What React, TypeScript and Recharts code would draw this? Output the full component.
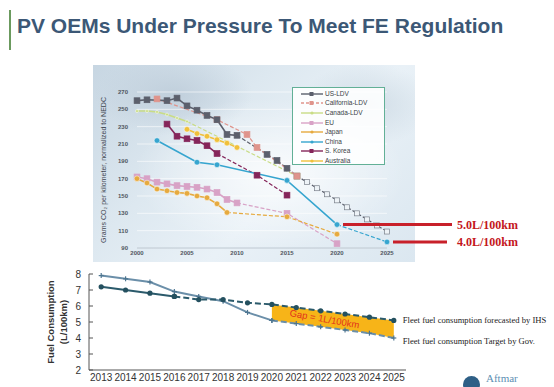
import React from 'react';
import {
  Area,
  CartesianGrid,
  ComposedChart,
  Line,
  LineChart,
  ReferenceDot,
  XAxis,
  YAxis,
} from 'recharts';

type Pt = [number, number];

// top panel: grams CO2 per km (NEDC), [year, value]
const usLdvActual: Pt[] = [
  [2000, 260], [2001, 261], [2003, 260], [2004, 263], [2005, 254],
  [2006, 249], [2007, 243], [2008, 238], [2009, 221], [2010, 220],
];
const usLdvTarget: Pt[] = [
  [2010, 220], [2013, 198], [2014, 191], [2015, 182], [2016, 173], [2017, 166],
  [2018, 159], [2019, 152], [2020, 145], [2021, 137], [2022, 130], [2023, 123],
  [2024, 116], [2025, 109],
];
const californiaLdv: Pt[] = [[2002, 262], [2008, 238], [2011, 221], [2012, 206], [2016, 173]];
const canadaActual: Pt[] = [[2000, 248], [2001, 248], [2002, 247], [2003, 244], [2004, 240], [2005, 236]];
const canadaTarget: Pt[] = [[2005, 236], [2016, 173]];
const euActual: Pt[] = [
  [2000, 172], [2001, 170], [2002, 166], [2003, 164], [2004, 162], [2005, 161],
  [2006, 160], [2007, 158], [2008, 154], [2009, 146], [2010, 142],
];
const euTarget: Pt[] = [[2010, 142], [2015, 130], [2020, 95]];
const japanActual: Pt[] = [
  [2000, 170], [2001, 165], [2002, 158], [2003, 156], [2004, 154], [2005, 153],
  [2006, 150], [2007, 148], [2008, 141], [2009, 131],
];
const japanTarget: Pt[] = [[2009, 131], [2015, 126], [2020, 106]];
const chinaActual: Pt[] = [[2002, 214], [2006, 189], [2008, 186], [2015, 168], [2020, 117]];
const chinaTarget: Pt[] = [[2020, 117], [2025, 97]];
const koreaActual: Pt[] = [[2003, 233], [2004, 219], [2005, 216], [2006, 214], [2007, 208], [2008, 199]];
const koreaTarget: Pt[] = [[2008, 199], [2012, 174], [2015, 151]];
const australiaActual: Pt[] = [[2005, 227], [2006, 222], [2007, 219], [2008, 215], [2009, 211], [2010, 206]];

const co2Ticks = [90, 110, 130, 150, 170, 190, 210, 230, 250, 270];
const yearTicks = [2000, 2005, 2010, 2015, 2020, 2025];

// bottom panel: fleet fuel consumption, L/100km
const fcYears = ['2013', '2014', '2015', '2016', '2017', '2018', '2019', '2020', '2021', '2022', '2023', '2024', '2025'];
const ihsHistory = [7.2, 7.0, 6.8, 6.6, null, null, null, null, null, null, null, null, null];
const ihsForecast = [null, null, null, 6.6, 6.4, 6.4, 6.2, 6.1, 5.9, 5.7, 5.5, 5.3, 5.1];
const govHistory = [7.9, 7.7, 7.5, 6.9, 6.6, 6.3, 5.6, 5.1, null, null, null, null, null];
const govTarget = [null, null, null, null, null, null, null, 5.1, 4.9, 4.7, 4.5, 4.3, 4.0];
const fcTicks = [2, 3, 4, 5, 6, 7, 8];
const gapStart = '2020';

const fcRows = fcYears.map((year, i) => ({
  year,
  ihsHistory: ihsHistory[i],
  ihsForecast: ihsForecast[i],
  govHistory: govHistory[i],
  govTarget: govTarget[i],
  gap:
    year >= gapStart && govTarget[i] != null && ihsForecast[i] != null
      ? [govTarget[i], ihsForecast[i]]
      : null,
}));
const bandEdges = fcYears.map((_, i) => i + 1);

const COL = {
  us: '#5b5f6c',
  ca: '#df948c',
  canada: '#c9dc86',
  eu: '#d8a2c6',
  japan: '#e6aa3f',
  china: '#36a5cf',
  korea: '#85255a',
  australia: '#f0c03a',
};

type Marker = 'square' | 'circle' | 'dot' | 'none';

const makeDot =
  (marker: Marker, color: string, skipFirst = false, openFrom?: number) =>
  (p: any) => {
    const { cx, cy, index, payload } = p;
    if (cx == null || cy == null || marker === 'none' || (skipFirst && index === 0)) {
      return <g key={`d${index}`} />;
    }
    if (marker === 'square') {
      const open = openFrom != null && payload.year >= openFrom;
      const s = open ? 5 : 5.8;
      return (
        <rect
          key={`d${index}`}
          x={cx - s / 2}
          y={cy - s / 2}
          width={s}
          height={s}
          fill={open ? '#eef3f7' : color}
          stroke={open ? '#7a808a' : color}
          strokeWidth={0.7}
        />
      );
    }
    const r = marker === 'circle' ? 2.8 : 1.5;
    return <circle key={`d${index}`} cx={cx} cy={cy} r={r} fill={color} stroke="#ffffff" strokeWidth={0.5} />;
  };

type Piece = {
  id: string;
  pts: Pt[];
  color: string;
  dashed?: boolean;
  marker: Marker;
  skipFirst?: boolean;
  openFrom?: number;
};

const pieces: Piece[] = [
  { id: 'canadaT', pts: canadaTarget, color: COL.canada, dashed: true, marker: 'square', skipFirst: true },
  { id: 'canadaA', pts: canadaActual, color: COL.canada, marker: 'dot' },
  { id: 'usT', pts: usLdvTarget, color: COL.us, dashed: true, marker: 'square', skipFirst: true, openFrom: 2017 },
  { id: 'caT', pts: californiaLdv, color: COL.ca, dashed: true, marker: 'square' },
  { id: 'usA', pts: usLdvActual, color: COL.us, marker: 'square' },
  { id: 'australiaA', pts: australiaActual, color: COL.australia, marker: 'circle' },
  { id: 'koreaT', pts: koreaTarget, color: COL.korea, dashed: true, marker: 'square', skipFirst: true },
  { id: 'koreaA', pts: koreaActual, color: COL.korea, marker: 'square' },
  { id: 'chinaT', pts: chinaTarget, color: COL.china, dashed: true, marker: 'circle', skipFirst: true },
  { id: 'chinaA', pts: chinaActual, color: COL.china, marker: 'circle' },
  { id: 'euT', pts: euTarget, color: COL.eu, dashed: true, marker: 'square', skipFirst: true },
  { id: 'euA', pts: euActual, color: COL.eu, marker: 'square' },
  { id: 'japanT', pts: japanTarget, color: COL.japan, dashed: true, marker: 'circle', skipFirst: true },
  { id: 'japanA', pts: japanActual, color: COL.japan, marker: 'circle' },
];

const legendItems = [
  { name: 'US-LDV', color: COL.us, dashed: false, marker: 'square' },
  { name: 'California-LDV', color: COL.ca, dashed: true, marker: 'square' },
  { name: 'Canada-LDV', color: COL.canada, dashed: false, marker: 'dot' },
  { name: 'EU', color: COL.eu, dashed: false, marker: 'square' },
  { name: 'Japan', color: COL.japan, dashed: false, marker: 'dot' },
  { name: 'China', color: COL.china, dashed: false, marker: 'dot' },
  { name: 'S. Korea', color: COL.korea, dashed: false, marker: 'square' },
  { name: 'Australia', color: COL.australia, dashed: false, marker: 'dot' },
];

const targetLabel = (text: string, lineStart: number, lineEnd: number, textX: number) => (p: any) => {
  const { cx, cy } = p;
  if (cx == null || cy == null) return <g />;
  return (
    <g>
      <line x1={cx + lineStart} x2={cx + lineEnd} y1={cy} y2={cy} stroke="#c8202a" strokeWidth={3} />
      <text
        x={cx + textX}
        y={cy}
        dy={4}
        fill="#c4161c"
        fontSize={12}
        fontWeight="bold"
        fontFamily="'Liberation Serif', 'Times New Roman', serif"
      >
        {text}
      </text>
    </g>
  );
};

const TopChart = () => (
  <LineChart
    width={461}
    height={197}
    margin={{ top: 27, right: 167, bottom: 2, left: 0 }}
    style={{ overflow: 'visible' }}
  >
    <CartesianGrid horizontal vertical={false} stroke="#ffffff" strokeOpacity={0.75} strokeWidth={0.8} />
    <XAxis
      type="number"
      dataKey="year"
      domain={[2000, 2025]}
      ticks={yearTicks}
      height={12}
      tickLine={false}
      tickSize={0}
      tickMargin={3}
      axisLine={{ stroke: '#a9b8c4', strokeWidth: 0.8 }}
      tick={{ fontSize: 6, fontWeight: 'bold', fill: '#505660', fontFamily: 'Arial, Liberation Sans, sans-serif' }}
    />
    <YAxis
      type="number"
      domain={[90, 270]}
      ticks={co2Ticks}
      interval={0}
      width={44}
      axisLine={false}
      tickLine={false}
      tickSize={0}
      tickMargin={9}
      tick={{ fontSize: 6, fontWeight: 'bold', fill: '#505660', fontFamily: 'Arial, Liberation Sans, sans-serif' }}
      label={(props: any) => {
        const vb = props.viewBox;
        const cy = vb.y + vb.height / 2;
        return (
          <text
            x={10}
            y={cy}
            transform={`rotate(-90 10 ${cy})`}
            textAnchor="middle"
            dominantBaseline="central"
            fontSize={7}
            fill="#3f4650"
            fontFamily="Arial, Liberation Sans, sans-serif"
          >
            Grams CO₂ per kilometer, normalized to NEDC
          </text>
        );
      }}
    />
    {pieces.map((pc) => (
      <Line
        key={pc.id}
        data={pc.pts.map(([year, v]) => ({ year, v }))}
        dataKey="v"
        type="linear"
        stroke={pc.color}
        strokeWidth={pc.dashed ? 1.2 : 1.6}
        strokeDasharray={pc.dashed ? '4 2' : undefined}
        dot={makeDot(pc.marker, pc.color, pc.skipFirst, pc.openFrom)}
        activeDot={false}
        isAnimationActive={false}
      />
    ))}
    <ReferenceDot x={2020} y={117} r={0} shape={targetLabel('5.0L/100km', 6, 115, 120)} />
    <ReferenceDot x={2025} y={97} r={0} shape={targetLabel('4.0L/100km', 6, 60, 70)} />
  </LineChart>
);

const TopLegend = () => (
  <div
    style={{
      position: 'absolute',
      left: 292,
      top: 87,
      width: 93,
      height: 78,
      border: '1px solid #62b096',
      background: 'rgba(255,255,255,0.88)',
      boxSizing: 'border-box',
      paddingTop: 1,
    }}
  >
    {legendItems.map((it) => (
      <div key={it.name} style={{ display: 'flex', alignItems: 'center', height: 9.6 }}>
        <svg width={30} height={8} style={{ marginLeft: 8 }}>
          <line
            x1={0}
            x2={22}
            y1={4}
            y2={4}
            stroke={it.color}
            strokeWidth={1.4}
            strokeDasharray={it.dashed ? '3 2' : undefined}
          />
          {it.marker === 'square' ? (
            <rect x={8.5} y={2} width={4} height={4} fill={it.color} />
          ) : (
            <circle cx={11} cy={4} r={1.6} fill={it.color} />
          )}
        </svg>
        <span
          style={{
            fontSize: 6.5,
            color: '#3a3f46',
            fontFamily: 'Arial, Liberation Sans, sans-serif',
            marginLeft: -6,
            lineHeight: '8px',
          }}
        >
          {it.name}
        </span>
      </div>
    ))}
  </div>
);

const ihsDot = (p: any) => {
  const { cx, cy, index, value } = p;
  if (cx == null || cy == null || value == null) return <g key={`i${index}`} />;
  return <circle key={`i${index}`} cx={cx} cy={cy} r={2.6} fill="#24505f" />;
};

const govDot = (p: any) => {
  const { cx, cy, index, value } = p;
  if (cx == null || cy == null || value == null) return <g key={`g${index}`} />;
  return (
    <g key={`g${index}`} stroke="#4d7590" strokeWidth={1.2}>
      <line x1={cx - 2.5} x2={cx + 2.5} y1={cy} y2={cy} />
      <line x1={cx} x2={cx} y1={cy - 2.5} y2={cy + 2.5} />
    </g>
  );
};

const endLabel = (text: string, dy: number) => (p: any) => {
  const { x, y, index } = p;
  if (index !== fcYears.length - 1 || x == null || y == null) return <g key={`l${index}`} />;
  return (
    <text
      key={`l${index}`}
      x={x + 9}
      y={y}
      dy={dy}
      fontSize={8.6}
      fill="#222"
      fontFamily="'Liberation Serif', 'Times New Roman', serif"
    >
      {text}
    </text>
  );
};

const gapLabel = (p: any) => {
  const { cx, cy } = p;
  if (cx == null || cy == null) return <g />;
  return (
    <text
      x={cx + 4}
      y={cy}
      transform={`rotate(10 ${cx + 4} ${cy})`}
      textAnchor="middle"
      dominantBaseline="central"
      fontSize={9.5}
      fill="#e2321d"
      fontFamily="Arial, Liberation Sans, sans-serif"
    >
      Gap = 1L/100km
    </text>
  );
};

const axisFont = { fontSize: 10, fill: '#333', fontFamily: 'Arial, Liberation Sans, sans-serif' };

const BottomChart = () => (
  <ComposedChart
    width={554}
    height={125}
    data={fcRows}
    margin={{ top: 12, right: 148, bottom: 0, left: 0 }}
    style={{ overflow: 'visible' }}
  >
    <XAxis
      xAxisId="edge"
      type="number"
      domain={[0, fcYears.length]}
      ticks={bandEdges}
      interval={0}
      height={0}
      axisLine={false}
      tick={false}
      tickSize={-4}
      tickLine={{ stroke: '#555' }}
    />
    <XAxis
      dataKey="year"
      type="category"
      scale="band"
      height={17}
      tickLine={false}
      tickSize={0}
      tickMargin={4}
      axisLine={{ stroke: '#555' }}
      tick={axisFont}
      interval={0}
    />
    <YAxis
      domain={[2, 8]}
      ticks={fcTicks}
      interval={0}
      width={89}
      tickSize={-4}
      tickMargin={12}
      axisLine={{ stroke: '#555' }}
      tickLine={{ stroke: '#555' }}
      tick={axisFont}
      label={(props: any) => {
        const vb = props.viewBox;
        const cy = vb.y + vb.height / 2;
        const common = {
          textAnchor: 'middle' as const,
          dominantBaseline: 'central' as const,
          fontSize: 9.5,
          fontWeight: 'bold' as const,
          fill: '#333',
          fontFamily: 'Arial, Liberation Sans, sans-serif',
        };
        return (
          <g>
            <text x={50} y={cy} transform={`rotate(-90 50 ${cy})`} {...common}>
              Fuel Consumption
            </text>
            <text x={63} y={cy} transform={`rotate(-90 63 ${cy})`} {...common}>
              (L/100km)
            </text>
          </g>
        );
      }}
    />
    <Area
      dataKey="gap"
      type="linear"
      stroke="none"
      fill="#f7b418"
      fillOpacity={1}
      connectNulls={false}
      isAnimationActive={false}
    />
    <Line
      dataKey="govHistory"
      type="linear"
      stroke="#6b8fa9"
      strokeWidth={2}
      dot={govDot}
      activeDot={false}
      isAnimationActive={false}
    />
    <Line
      dataKey="govTarget"
      type="linear"
      stroke="#6b8fa9"
      strokeWidth={2}
      strokeDasharray="6 3"
      dot={govDot}
      activeDot={false}
      label={endLabel('Fleet fuel consumption Target by Gov.', 6)}
      isAnimationActive={false}
    />
    <Line
      dataKey="ihsHistory"
      type="linear"
      stroke="#2b5a6b"
      strokeWidth={2}
      dot={ihsDot}
      activeDot={false}
      isAnimationActive={false}
    />
    <Line
      dataKey="ihsForecast"
      type="linear"
      stroke="#2b5a6b"
      strokeWidth={2}
      strokeDasharray="6 3"
      dot={ihsDot}
      activeDot={false}
      label={endLabel('Fleet fuel consumption forecasted by IHS', 3)}
      isAnimationActive={false}
    />
    <ReferenceDot x="2022" y={5.2} r={0} shape={gapLabel} />
  </ComposedChart>
);

export default function App() {
  return (
    <div
      style={{
        position: 'fixed',
        left: 0,
        top: 0,
        width: 554,
        height: 387,
        overflow: 'hidden',
        background: '#ffffff',
        fontFamily: 'Arial, Liberation Sans, sans-serif',
      }}
    >
      <div style={{ position: 'absolute', left: 9, top: 10, width: 2, height: 40, background: '#6b9a5e' }} />
      <div
        style={{
          position: 'absolute',
          left: 17,
          top: 14,
          fontSize: 21,
          fontWeight: 'bold',
          color: '#3c5876',
          whiteSpace: 'nowrap',
          letterSpacing: 0,
        }}
      >
        PV OEMs Under Pressure To Meet FE Regulation
      </div>

      {/* map-like backdrop of the embedded figure */}
      <div
        style={{
          position: 'absolute',
          left: 93,
          top: 65,
          width: 322,
          height: 197,
          background:
            'radial-gradient(ellipse 60% 55% at 55% 55%, rgba(255,255,255,0.75), rgba(255,255,255,0) 70%), ' +
            'radial-gradient(ellipse 35% 30% at 25% 15%, rgba(190,205,218,0.9), rgba(190,205,218,0) 70%), ' +
            'radial-gradient(ellipse 30% 30% at 85% 20%, rgba(205,218,228,0.9), rgba(205,218,228,0) 70%), ' +
            'linear-gradient(135deg, #c7d6e2 0%, #dde8f0 35%, #e9f1f7 60%, #dbe7f0 100%)',
        }}
      />

      <div style={{ position: 'absolute', left: 93, top: 65 }}>
        <TopChart />
      </div>
      <TopLegend />

      <div style={{ position: 'absolute', left: 0, top: 262 }}>
        <BottomChart />
      </div>

      <div
        style={{
          position: 'absolute',
          left: 463,
          top: 376,
          width: 17,
          height: 17,
          borderRadius: '50%',
          background: '#2e5f86',
        }}
      />
      <div
        style={{
          position: 'absolute',
          left: 486,
          top: 372,
          fontSize: 11,
          lineHeight: '13px',
          color: '#5d8fb3',
          fontFamily: "'Liberation Serif', serif",
          whiteSpace: 'nowrap',
        }}
      >
        Aftmar
      </div>
    </div>
  );
}
